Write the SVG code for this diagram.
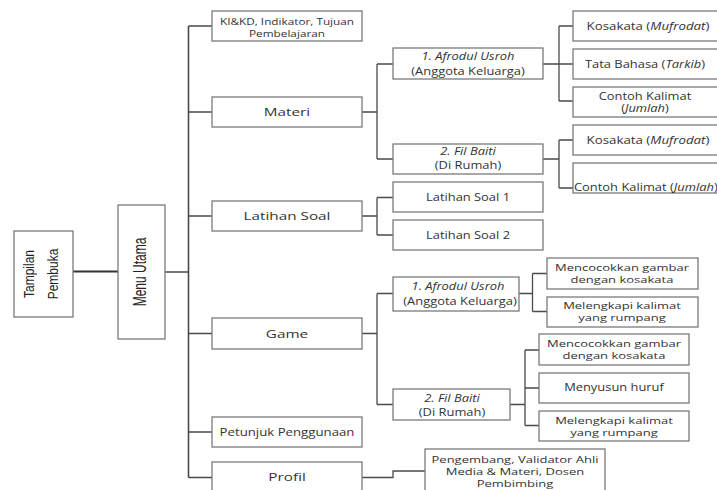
<svg xmlns="http://www.w3.org/2000/svg" width="717" height="490" viewBox="0 0 717 490">
<style>
.bx{fill:#fff;stroke:#7a7a7a;stroke-width:1.3}
.cn{fill:none;stroke:#4a4a4a;stroke-width:1.3}
.t{font-family:"Open Sans","Liberation Sans",sans-serif;font-size:10px;fill:#333;text-anchor:middle}
.s{font-size:9.5px}
.b{font-family:"Open Sans","Liberation Sans",sans-serif;font-size:11.5px;fill:#333;text-anchor:middle}
.v{font-family:"Liberation Sans",Arial,sans-serif;font-size:12px;fill:#222;text-anchor:middle}
.i{font-style:italic}
</style>
<rect width="717" height="490" fill="#fff"/>
<g id="connectors">
<path class="cn" d="M73,271.5H118" style="stroke:#333;stroke-width:2"/>
<path class="cn" d="M165,272H188.5M188.5,26V477.5" style="stroke-width:1.6"/>
<path class="cn" d="M188.5,26H212M188.5,112H212M188.5,216H212M188.5,333.5H212M188.5,432H212M188.5,477.5H212"/>
<path class="cn" d="M362,112H377M377,64V159M377,64H393M377,159H393"/>
<path class="cn" d="M362,216H377M377,197.5V235M377,197.5H393M377,235H393"/>
<path class="cn" d="M543,64H559M559,26V101M559,26H573M559,64H573M559,101H573"/>
<path class="cn" d="M543,159H559M559,140V188M559,140H573M559,188H573"/>
<path class="cn" d="M362,333.5H377M377,293.5V404.5M377,293.5H393M377,404.5H393"/>
<path class="cn" d="M519,293.5H532.5M532.5,273.5V311.5M532.5,273.5H547M532.5,311.5H547"/>
<path class="cn" d="M510,404.5H525M525,350V425.5M525,350H539M525,388H539M525,425.5H539"/>
<path class="cn" d="M362,477.5H393V471H425"/>
</g>
<g id="tampilan"><rect class="bx" x="14" y="231" width="59" height="86"/>
<text class="v" transform="translate(43.5,274) rotate(-90) scale(1,1.15)" y="-8">Tampilan</text>
<text class="v" transform="translate(43.5,274) rotate(-90) scale(1,1.15)" y="12.5">Pembuka</text></g>
<g id="menu"><rect class="bx" x="118" y="205" width="47" height="134"/>
<text class="v" transform="translate(141.5,272) rotate(-90) scale(1,1.5)" y="3.3">Menu Utama</text></g>
<g id="ki"><rect class="bx" x="212" y="11" width="150" height="30"/>
<text class="t s" transform="translate(287,25) scale(1.24,1)">KI&amp;KD, Indikator, Tujuan</text>
<text class="t s" transform="translate(287,37) scale(1.24,1)">Pembelajaran</text></g>
<g id="materi"><rect class="bx" x="212" y="97" width="150" height="30"/>
<text class="b" transform="translate(287,116) scale(1.33,1)">Materi</text></g>
<g id="latihan"><rect class="bx" x="212" y="201" width="150" height="30"/>
<text class="b" transform="translate(287,220) scale(1.33,1)">Latihan Soal</text></g>
<g id="game"><rect class="bx" x="212" y="318" width="150" height="31"/>
<text class="b" transform="translate(287,337.5) scale(1.33,1)">Game</text></g>
<g id="petunjuk"><rect class="bx" x="212" y="417" width="150" height="30"/>
<text class="b" transform="translate(287,436) scale(1.15,1)">Petunjuk Penggunaan</text></g>
<g id="profil"><rect class="bx" x="212" y="462" width="150" height="40"/>
<text class="b" transform="translate(287,481) scale(1.33,1)">Profil</text></g>
<g id="m-afrodul"><rect class="bx" x="393" y="48" width="150" height="31"/>
<text class="t i" transform="translate(468,59.5) scale(1.29,1)">1. Afrodul Usroh</text>
<text class="t" transform="translate(468,74.5) scale(1.29,1)">(Anggota Keluarga)</text></g>
<g id="m-filbaiti"><rect class="bx" x="393" y="144" width="150" height="30"/>
<text class="t i" transform="translate(468,155) scale(1.29,1)">2. Fil Baiti</text>
<text class="t" transform="translate(468,169) scale(1.29,1)">(Di Rumah)</text></g>
<g id="latihan1"><rect class="bx" x="393" y="182" width="150" height="30"/>
<text class="t" transform="translate(468,201) scale(1.29,1)">Latihan Soal 1</text></g>
<g id="latihan2"><rect class="bx" x="393" y="220" width="150" height="30"/>
<text class="t" transform="translate(468,239) scale(1.29,1)">Latihan Soal 2</text></g>
<g id="kosakata1"><rect class="bx" x="573" y="11" width="150" height="30"/>
<text class="t" transform="translate(648,29.5) scale(1.33,1)">Kosakata (<tspan class="i">Mufrodat</tspan>)</text></g>
<g id="tatabahasa"><rect class="bx" x="573" y="49" width="150" height="30"/>
<text class="t" transform="translate(645,68) scale(1.29,1)">Tata Bahasa (<tspan class="i">Tarkib</tspan>)</text></g>
<g id="contoh1"><rect class="bx" x="573" y="87" width="150" height="30"/>
<text class="t" transform="translate(645,100) scale(1.29,1)">Contoh Kalimat</text>
<text class="t" transform="translate(645,111.5) scale(1.29,1)">(<tspan class="i">Jumlah</tspan>)</text></g>
<g id="kosakata2"><rect class="bx" x="573" y="125" width="150" height="30"/>
<text class="t" transform="translate(648,143.5) scale(1.33,1)">Kosakata (<tspan class="i">Mufrodat</tspan>)</text></g>
<g id="contoh2"><rect class="bx" x="573" y="163" width="150" height="30"/>
<text class="t" transform="translate(574,191) scale(1.29,1)" style="text-anchor:start">Contoh Kalimat (<tspan class="i">Jumlah</tspan>)</text></g>
<g id="g-afrodul"><rect class="bx" x="393" y="277" width="126" height="34"/>
<text class="t i" transform="translate(458,290) scale(1.29,1)">1. Afrodul Usroh</text>
<text class="t" transform="translate(460,305) scale(1.29,1)">(Anggota Keluarga)</text></g>
<g id="g-filbaiti"><rect class="bx" x="393" y="389" width="117" height="31"/>
<text class="t i" transform="translate(452,401.5) scale(1.29,1)">2. Fil Baiti</text>
<text class="t" transform="translate(452,416) scale(1.29,1)">(Di Rumah)</text></g>
<g id="g-mencocok1"><rect class="bx" x="547" y="258" width="151" height="31"/>
<text class="t s" transform="translate(622,271) scale(1.37,1)">Mencocokkan gambar</text>
<text class="t s" transform="translate(622,283) scale(1.37,1)">dengan kosakata</text></g>
<g id="g-melengkapi1"><rect class="bx" x="547" y="297" width="151" height="30"/>
<text class="t s" transform="translate(622,309) scale(1.37,1)">Melengkapi kalimat</text>
<text class="t s" transform="translate(622,321) scale(1.37,1)">yang rumpang</text></g>
<g id="g-mencocok2"><rect class="bx" x="539" y="334" width="150" height="31"/>
<text class="t s" transform="translate(614,347) scale(1.37,1)">Mencocokkan gambar</text>
<text class="t s" transform="translate(614,359) scale(1.37,1)">dengan kosakata</text></g>
<g id="menyusun"><rect class="bx" x="539" y="373" width="150" height="30"/>
<text class="t" transform="translate(614,391) scale(1.29,1)">Menyusun huruf</text></g>
<g id="g-melengkapi2"><rect class="bx" x="539" y="411" width="150" height="30"/>
<text class="t s" transform="translate(614,423.5) scale(1.37,1)">Melengkapi kalimat</text>
<text class="t s" transform="translate(614,435.5) scale(1.37,1)">yang rumpang</text></g>
<g id="pengembang"><rect class="bx" x="425" y="449" width="180" height="50"/>
<text class="t s" transform="translate(515,463) scale(1.37,1)">Pengembang, Validator Ahli</text>
<text class="t s" transform="translate(515,475) scale(1.37,1)">Media &amp; Materi, Dosen</text>
<text class="t s" transform="translate(515,487) scale(1.37,1)">Pembimbing</text></g>
</svg>
